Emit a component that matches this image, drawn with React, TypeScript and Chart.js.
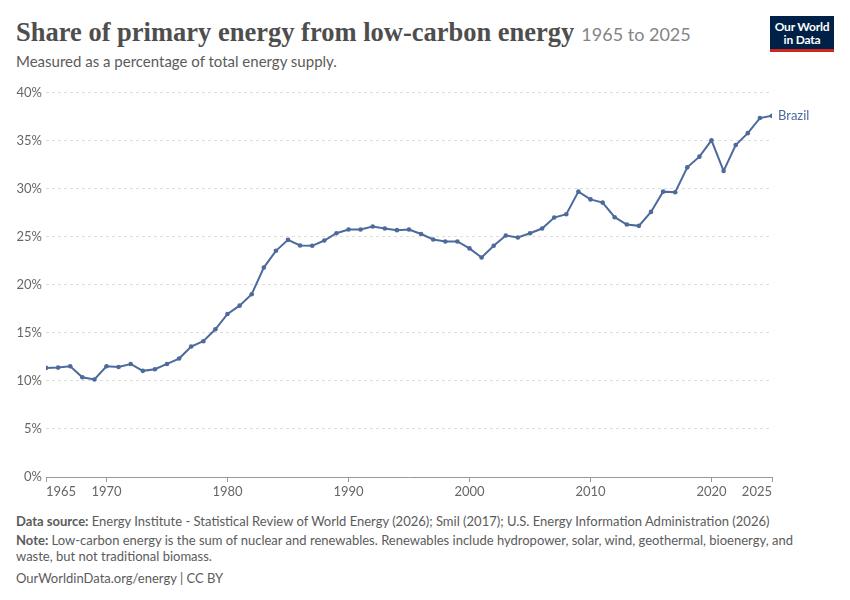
import React, { useEffect, useRef } from "react";
import { Chart, registerables } from "chart.js";

Chart.register(...registerables);

const years = [
  1965, 1966, 1967, 1968, 1969, 1970, 1971, 1972, 1973, 1974,
  1975, 1976, 1977, 1978, 1979, 1980, 1981, 1982, 1983, 1984,
  1985, 1986, 1987, 1988, 1989, 1990, 1991, 1992, 1993, 1994,
  1995, 1996, 1997, 1998, 1999, 2000, 2001, 2002, 2003, 2004,
  2005, 2006, 2007, 2008, 2009, 2010, 2011, 2012, 2013, 2014,
  2015, 2016, 2017, 2018, 2019, 2020, 2021, 2022, 2023, 2024,
  2025,
];

const brazilShare = [
  11.36, 11.39, 11.53, 10.39, 10.15, 11.53, 11.46, 11.77, 11.05, 11.22,
  11.77, 12.33, 13.58, 14.13, 15.38, 16.97, 17.84, 19.03, 21.8, 23.55,
  24.69, 24.1, 24.07, 24.62, 25.38, 25.77, 25.77, 26.08, 25.87, 25.7,
  25.77, 25.3, 24.73, 24.52, 24.52, 23.8, 22.86, 24.07, 25.14, 24.93,
  25.38, 25.87, 27.01, 27.36, 29.71, 28.9, 28.57, 27.05, 26.29, 26.15,
  27.6, 29.71, 29.64, 32.24, 33.35, 35.05, 31.86, 34.56, 35.8, 37.37,
  37.6,
];

const seriesName = "Brazil";
const xTickYears = [1965, 1970, 1980, 1990, 2000, 2010, 2020, 2025];
const yTickValues = [0, 5, 10, 15, 20, 25, 30, 35, 40];

const LINE_COLOR = "#4c6a9c";
const TICK_COLOR = "#666666";
const FONT = "Lato, 'Noto Sans', sans-serif";

const labelPlugin = {
  id: "owidLabels",
  afterDatasetsDraw(chart: any) {
    const ctx = chart.ctx;
    const meta = chart.getDatasetMeta(0);
    const last = meta.data[meta.data.length - 1];
    ctx.save();
    ctx.font = `13px ${FONT}`;
    ctx.fillStyle = LINE_COLOR;
    ctx.textBaseline = "middle";
    ctx.textAlign = "left";
    ctx.fillText(seriesName, last.x + 6, last.y);

    const xs = chart.scales.x;
    ctx.fillStyle = TICK_COLOR;
    ctx.textBaseline = "top";
    xTickYears.forEach((v, i) => {
      const px = xs.getPixelForValue(v);
      ctx.textAlign =
        i === 0 ? "left" : i === xTickYears.length - 1 ? "right" : "center";
      ctx.fillText(String(v), px, xs.top + 8);
    });
    ctx.restore();
  },
};

export default function App() {
  const canvasRef = useRef<HTMLCanvasElement | null>(null);

  useEffect(() => {
    if (!canvasRef.current) return;
    const chart = new Chart(canvasRef.current, {
      type: "line",
      data: {
        datasets: [
          {
            label: seriesName,
            data: years.map((y, i) => ({ x: y, y: brazilShare[i] })),
            borderColor: LINE_COLOR,
            backgroundColor: LINE_COLOR,
            borderWidth: 2,
            pointRadius: 2.3,
            pointHoverRadius: 2.3,
            pointBorderWidth: 0,
            tension: 0,
          },
        ],
      },
      options: {
        animation: false,
        responsive: false,
        devicePixelRatio: 1,
        layout: { padding: { top: 11, right: 78, left: 0, bottom: 0 } },
        plugins: {
          legend: { display: false },
          tooltip: { enabled: false },
        },
        scales: {
          x: {
            type: "linear",
            min: 1965,
            max: 2025,
            afterBuildTicks: (scale: any) => {
              scale.ticks = xTickYears.map((v) => ({ value: v }));
            },
            afterFit: (scale: any) => {
              scale.height = 34;
            },
            ticks: { display: false },
            grid: {
              drawOnChartArea: false,
              drawTicks: true,
              tickLength: 5,
              color: "#999999",
            },
            border: { color: "#999999", width: 1 },
          },
          y: {
            min: 0,
            max: 40,
            afterBuildTicks: (scale: any) => {
              scale.ticks = yTickValues.map((v) => ({ value: v }));
            },
            afterFit: (scale: any) => {
              scale.width = 46;
            },
            ticks: {
              color: TICK_COLOR,
              font: { family: FONT, size: 13 },
              padding: 4,
              callback: (v: any) => `${v}%`,
            },
            grid: {
              drawTicks: false,
              color: (ctx: any) =>
                ctx.tick && ctx.tick.value === 0 ? "rgba(0,0,0,0)" : "#dddddd",
              lineWidth: 1,
            },
            border: { display: false, dash: [3, 3] },
          },
        },
      },
      plugins: [labelPlugin],
    });
    return () => chart.destroy();
  }, []);

  const footerStyle: React.CSSProperties = {
    position: "absolute",
    left: 16,
    fontFamily: FONT,
    fontSize: 13,
    color: "#5b5b5b",
    whiteSpace: "nowrap",
    lineHeight: "16px",
  };

  return (
    <div
      style={{
        position: "absolute",
        left: 0,
        top: 0,
        width: 850,
        height: 600,
        background: "#ffffff",
        overflow: "hidden",
      }}
    >
      <div
        style={{
          position: "absolute",
          left: 16,
          top: 16,
          lineHeight: "32px",
          whiteSpace: "nowrap",
        }}
      >
        <span
          style={{
            fontFamily: "'Liberation Serif', 'DejaVu Serif', serif",
            fontWeight: 700,
            fontSize: 26.5,
            color: "#4e4e4e",
          }}
        >
          Share of primary energy from low-carbon energy
        </span>
        <span
          style={{
            fontFamily: FONT,
            fontSize: 18,
            color: "#858585",
            marginLeft: 7,
          }}
        >
          1965 to 2025
        </span>
      </div>
      <div
        style={{
          position: "absolute",
          left: 16,
          top: 52,
          fontFamily: FONT,
          fontSize: 15,
          lineHeight: "18px",
          color: "#5b5b5b",
          whiteSpace: "nowrap",
        }}
      >
        Measured as a percentage of total energy supply.
      </div>
      <div
        style={{
          position: "absolute",
          left: 770,
          top: 16,
          width: 64,
          height: 33,
          background: "#002147",
          borderBottom: "3px solid #ce261e",
          color: "#ffffff",
          fontFamily: FONT,
          fontWeight: 700,
          fontSize: 12,
          lineHeight: "13px",
          textAlign: "center",
          display: "flex",
          flexDirection: "column",
          justifyContent: "center",
          letterSpacing: -0.2,
        }}
      >
        <div>Our World</div>
        <div>in Data</div>
      </div>
      <canvas
        ref={canvasRef}
        width={850}
        height={430}
        style={{ position: "absolute", left: 0, top: 81, width: 850, height: 430 }}
      />
      <div style={{ ...footerStyle, top: 513 }}>
        <b>Data source:</b> Energy Institute - Statistical Review of World Energy
        (2026); Smil (2017); U.S. Energy Information Administration (2026)
      </div>
      <div style={{ ...footerStyle, top: 532 }}>
        <b>Note:</b> Low-carbon energy is the sum of nuclear and renewables.
        Renewables include hydropower, solar, wind, geothermal, bioenergy, and
      </div>
      <div style={{ ...footerStyle, top: 548 }}>
        waste, but not traditional biomass.
      </div>
      <div style={{ ...footerStyle, top: 570 }}>
        OurWorldinData.org/energy | CC BY
      </div>
    </div>
  );
}
